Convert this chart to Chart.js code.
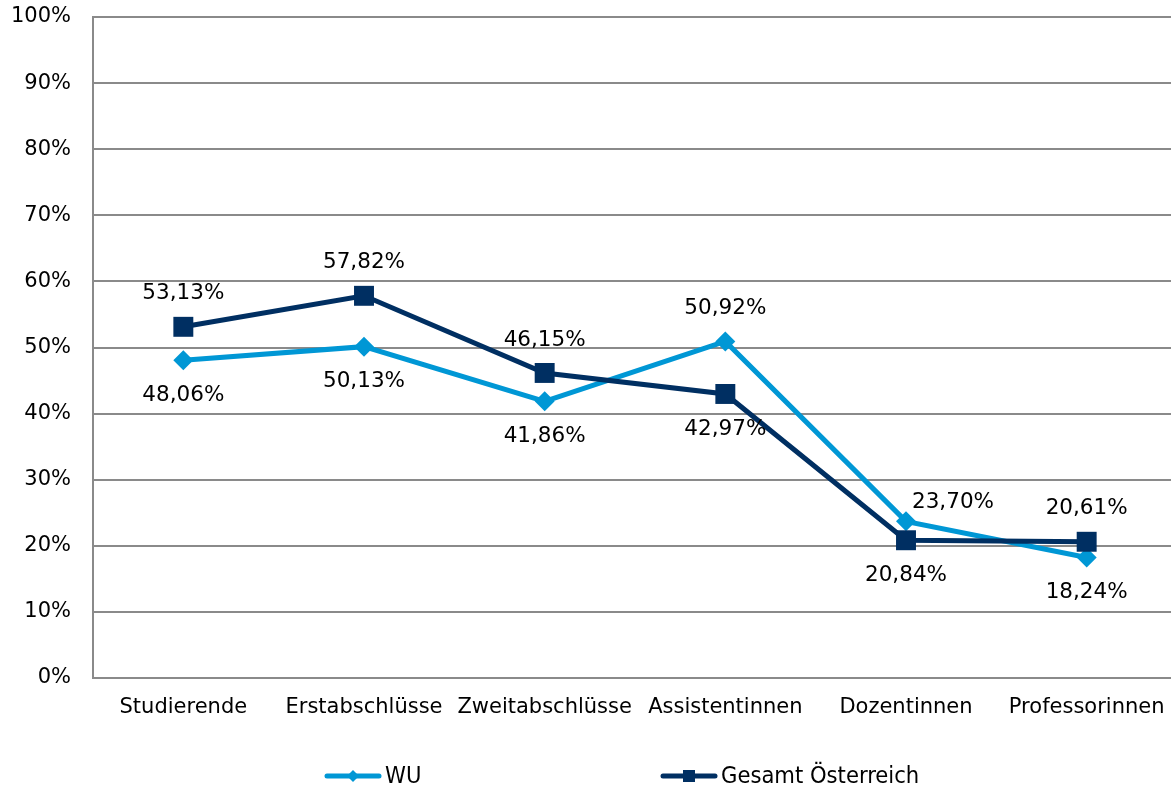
<!DOCTYPE html>
<html>
<head>
<meta charset="utf-8">
<script src="https://cdn.jsdelivr.net/npm/chart.js@4.4.1/dist/chart.umd.min.js"></script>
<style>
  html, body { margin: 0; padding: 0; background: #fff; overflow: hidden; }
  #wrap { width: 1180px; height: 789px; }
</style>
</head>
<body>
<div id="wrap"><canvas id="c" width="1180" height="789"></canvas></div>
<script>
// ---- data ----
const categories = ['Studierende', 'Erstabschlüsse', 'Zweitabschlüsse', 'Assistentinnen', 'Dozentinnen', 'Professorinnen'];
const wuValues = [48.06, 50.13, 41.86, 50.92, 23.70, 18.24];
const gesamtValues = [53.13, 57.82, 46.15, 42.97, 20.84, 20.61];
const seriesNames = ['WU', 'Gesamt Österreich'];
const yTicks = [0, 10, 20, 30, 40, 50, 60, 70, 80, 90, 100];

// label placement (style, not data)
const wuLabelPos = ['below', 'below', 'below', 'above', 'right', 'below'];
const gesamtLabelPos = ['above', 'above', 'above', 'below', 'below', 'above'];

const WU_COLOR = '#0097D5';
const GES_COLOR = '#002F62';
const GRID = '#8a8a8a';
const FONT = '"DejaVu Sans", Verdana, sans-serif';

function fmt(v) { return v.toFixed(2).replace('.', ',') + '%'; }

const dataLabels = {
  id: 'dataLabels',
  afterDatasetsDraw(chart) {
    const ctx = chart.ctx;
    ctx.save();
    ctx.font = '21.5px ' + FONT;
    ctx.fillStyle = '#000';
    ctx.textAlign = 'center';
    ctx.textBaseline = 'middle';
    chart.data.datasets.forEach((ds, di) => {
      const meta = chart.getDatasetMeta(di);
      const pos = ds.labelPos;
      meta.data.forEach((pt, i) => {
        let x = pt.x, y = pt.y;
        const p = pos[i];
        if (p === 'above') y -= 33;
        else if (p === 'below') y += 35;
        else if (p === 'right') { x += 47; y -= 19; }
        ctx.fillText(fmt(ds.data[i]), x, y);
      });
    });
    ctx.restore();
  }
};

const customLegend = {
  id: 'customLegend',
  afterDraw(chart) {
    const ctx = chart.ctx;
    const y = 776;
    const items = [
      { x: 325, ds: chart.data.datasets[0], shape: 'diamond' },
      { x: 661, ds: chart.data.datasets[1], shape: 'square' }
    ];
    ctx.save();
    items.forEach(it => {
      const c = it.ds.borderColor;
      ctx.strokeStyle = c;
      ctx.fillStyle = c;
      ctx.lineWidth = 5;
      ctx.lineCap = 'round';
      ctx.beginPath();
      ctx.moveTo(it.x + 2, y);
      ctx.lineTo(it.x + 54, y);
      ctx.stroke();
      const cx = it.x + 28;
      ctx.beginPath();
      if (it.shape === 'diamond') {
        ctx.moveTo(cx - 6, y); ctx.lineTo(cx, y - 6); ctx.lineTo(cx + 6, y); ctx.lineTo(cx, y + 6);
      } else {
        ctx.rect(cx - 6, y - 6, 12, 12);
      }
      ctx.closePath();
      ctx.fill();
      ctx.fillStyle = '#000';
      ctx.font = '23.5px "DejaVu Sans Condensed", "DejaVu Sans", sans-serif';
      ctx.textAlign = 'left';
      ctx.textBaseline = 'middle';
      ctx.fillText(it.ds.label, it.x + 60, y + 1);
    });
    ctx.restore();
  }
};

new Chart(document.getElementById('c'), {
  type: 'line',
  data: {
    labels: categories,
    datasets: [
      {
        label: seriesNames[0],
        data: wuValues,
        labelPos: wuLabelPos,
        borderColor: WU_COLOR,
        backgroundColor: WU_COLOR,
        borderWidth: 5,
        pointStyle: 'rectRot',
        pointRadius: 10,
        pointHoverRadius: 10,
        pointBorderWidth: 0,
        pointBackgroundColor: WU_COLOR,
        tension: 0,
        order: 2
      },
      {
        label: seriesNames[1],
        data: gesamtValues,
        labelPos: gesamtLabelPos,
        borderColor: GES_COLOR,
        backgroundColor: GES_COLOR,
        borderWidth: 5,
        pointStyle: 'rect',
        pointRadius: 14.1,
        pointHoverRadius: 14.1,
        pointBorderWidth: 0,
        pointBackgroundColor: GES_COLOR,
        tension: 0,
        order: 1
      }
    ]
  },
  options: {
    responsive: false,
    animation: false,
    events: [],
    layout: { autoPadding: false, padding: { left: 0, right: 3, top: 17, bottom: 0 } },
    plugins: { legend: { display: false }, tooltip: { enabled: false } },
    scales: {
      x: {
        offset: true,
        grid: { display: false },
        border: { display: true, color: GRID, width: 2 },
        ticks: { color: '#000', font: { family: FONT, size: 21 }, padding: 9, maxRotation: 0, autoSkip: false },
        afterFit(scale) { scale.height = 111; }
      },
      y: {
        min: 0,
        max: 100,
        afterBuildTicks(scale) { scale.ticks = yTicks.map(v => ({ value: v })); },
        grid: { color: GRID, lineWidth: 2, drawTicks: false },
        border: { display: true, color: GRID, width: 2 },
        ticks: { color: '#000', font: { family: FONT, size: 21 }, padding: 22, callback: v => v + '%' },
        afterFit(scale) { scale.width = 93; scale.paddingTop = 0; scale.paddingBottom = 0; }
      }
    }
  },
  plugins: [dataLabels, customLegend]
});
</script>
</body>
</html>
